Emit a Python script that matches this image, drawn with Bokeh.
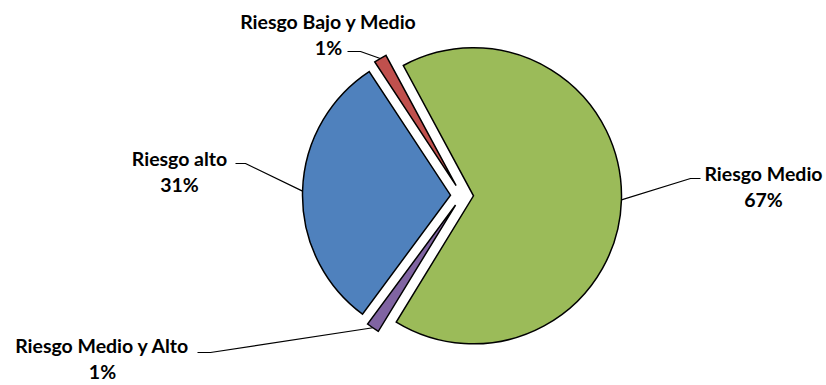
import numpy as np
from bokeh.plotting import figure
from bokeh.models import Range1d
from bokeh.core.properties import value
from bokeh.embed import file_html
from bokeh.resources import INLINE

# ---- data ----
categories = ["Riesgo Medio", "Riesgo Medio y Alto", "Riesgo alto", "Riesgo Bajo y Medio"]
shares = [66.6, 1.4, 30.6, 1.4]
colors = ["#9BBB59", "#8064A2", "#4F81BD", "#C0504D"]

# ---- layout (page pixel coordinates) ----
PAGE_W, PAGE_H = 826, 385
CX, CY = 461.5, 195.0      # pie centre
R = 148.0                  # radius
EXPLODE = 11.5             # explosion distance
START = 118.3              # angle (deg, math) of first slice start, clockwise order
FONT = "Lato"
FS = "19.5px"
LINE_GAP = 26

# label centre of first line and leader elbow/end points, page coords
label_pos = {
    "Riesgo Medio": (763, 173),
    "Riesgo Medio y Alto": (102, 345),
    "Riesgo alto": (179, 158),
    "Riesgo Bajo y Medio": (328, 21),
}
leader_pts = {
    "Riesgo Medio": [(690, 178), (700, 178)],
    "Riesgo Medio y Alto": [(210, 352), (197, 352)],
    "Riesgo alto": [(245, 163), (235, 163)],
    "Riesgo Bajo y Medio": [(360, 51), (347, 51)],
}


def Y(y):
    return PAGE_H - y


p = figure(width=PAGE_W, height=PAGE_H, x_range=Range1d(0, PAGE_W), y_range=Range1d(0, PAGE_H),
           output_backend="svg", toolbar_location=None, min_border=0)
p.axis.visible = False
p.grid.visible = False
p.outline_line_color = None
p.background_fill_color = "white"

total = sum(shares)
cum = 0.0
for cat, s, c in zip(categories, shares, colors):
    a0 = START - cum / total * 360.0
    a1 = a0 - s / total * 360.0
    cum += s
    mid = np.radians((a0 + a1) / 2)
    ex = CX + EXPLODE * np.cos(mid)
    ey = Y(CY) + EXPLODE * np.sin(mid)
    p.wedge(x=[ex], y=[ey], radius=R, start_angle=[a0], end_angle=[a1],
            start_angle_units="deg", end_angle_units="deg", direction="clock",
            fill_color=c, line_color="black", line_width=1.5, line_join="miter")
    # leader line from arc midpoint
    ax = ex + R * np.cos(mid)
    ay = ey + R * np.sin(mid)
    pts = leader_pts[cat]
    xs = [ax] + [q[0] for q in pts]
    ys = [ay] + [Y(q[1]) for q in pts]
    p.line(xs, ys, line_color="black", line_width=1.2)
    lx, ly = label_pos[cat]
    pct = f"{round(s / total * 100)}%"
    p.text(x=[lx], y=[Y(ly)], text=[cat], text_align="center", text_baseline="middle",
           text_font=value(FONT), text_font_size=FS, text_font_style="bold", text_color="black")
    p.text(x=[lx], y=[Y(ly + LINE_GAP)], text=[pct], text_align="center", text_baseline="middle",
           text_font=value(FONT), text_font_size=FS, text_font_style="bold", text_color="black")

open("out.html", "w").write(file_html(p, INLINE))
